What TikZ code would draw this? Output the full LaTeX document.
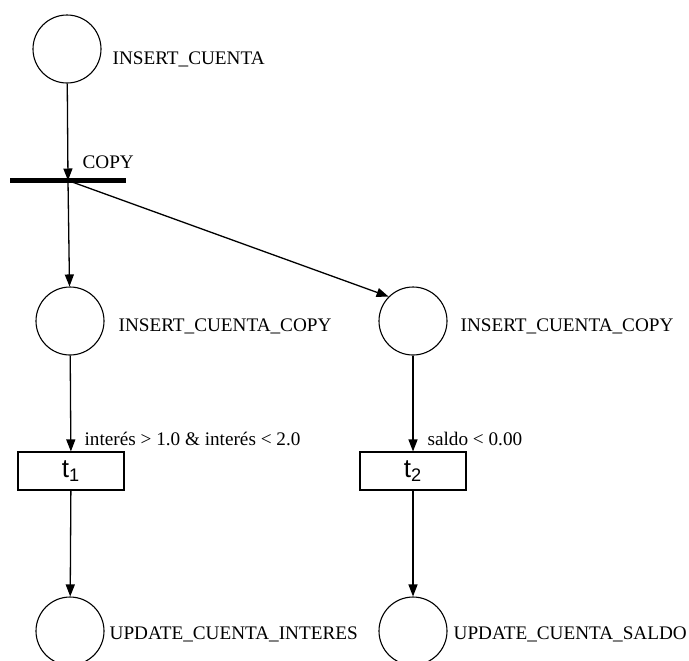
\documentclass[tikz,border=0pt]{standalone}
\usepackage{fontspec}
\setmainfont{Liberation Serif}
\newfontfamily\tfont{Liberation Sans}
\usetikzlibrary{arrows.meta}

\begin{document}
\begin{tikzpicture}[x = 50pt, y = -50pt, line width = 0.65pt,
    >={Triangle[length=6pt, width=4.5pt]},
    place/.style = {circle, draw, line width = 0.55pt, minimum size = 34pt, inner sep = 0pt},
    trans/.style = {rectangle, draw, line width = 0.55pt, minimum width = 53pt, minimum height = 19pt, inner sep = 0pt, font = \tfont\fontsize{13}{15}\selectfont},
    bar/.style = {rectangle, fill = black, minimum width = 58pt, minimum height = 2.5pt, inner sep = 0pt},
    lbl/.style = {anchor = base west, inner sep = 0pt, font = \fontsize{9.6}{11}\selectfont}]
\useasboundingbox (0,0) rectangle (6.89,6.60);
\clip (0,0) rectangle (6.89,6.60);
\draw
    (0.67,0.49) node[place](p0){}
    (0.68,1.805) node[bar](t0){}
    (0.70,3.21) node[place](p1){}
    (4.13,3.21) node[place](p2){}
    (0.71,4.71) node[trans](t1){t\textsubscript{1}}
    (4.13,4.71) node[trans](t2){t\textsubscript{2}}
    (0.70,6.31) node[place](p3){}
    (4.13,6.31) node[place](p4){};

\draw
    (1.12,0.645) node[lbl](n0){INSERT\_CUENTA}
    (0.82,1.68) node[lbl](g0){COPY}
    (1.18,3.315) node[lbl](n1){INSERT\_CUENTA\_COPY}
    (4.60,3.315) node[lbl](n2){INSERT\_CUENTA\_COPY}
    (0.84,4.45) node[lbl](g1){interés > 1.0 \& interés < 2.0}
    (4.27,4.45) node[lbl](g2){saldo < 0.00}
    (1.09,6.39) node[lbl](n3){UPDATE\_CUENTA\_INTERES}
    (4.53,6.39) node[lbl](n4){UPDATE\_CUENTA\_SALDO};

    \draw [->] (p0) -- (t0.center);
    \draw [->] (t0.center) -- (p1);
    \draw [->] (t0.center) -- (p2.north west);
    \draw [->] (p1) -- (t1);
    \draw [->] (p2) -- (t2);
    \draw [->] (t1) -- (p3);
    \draw [->] (t2) -- (p4);

\end{tikzpicture}
\end{document}
